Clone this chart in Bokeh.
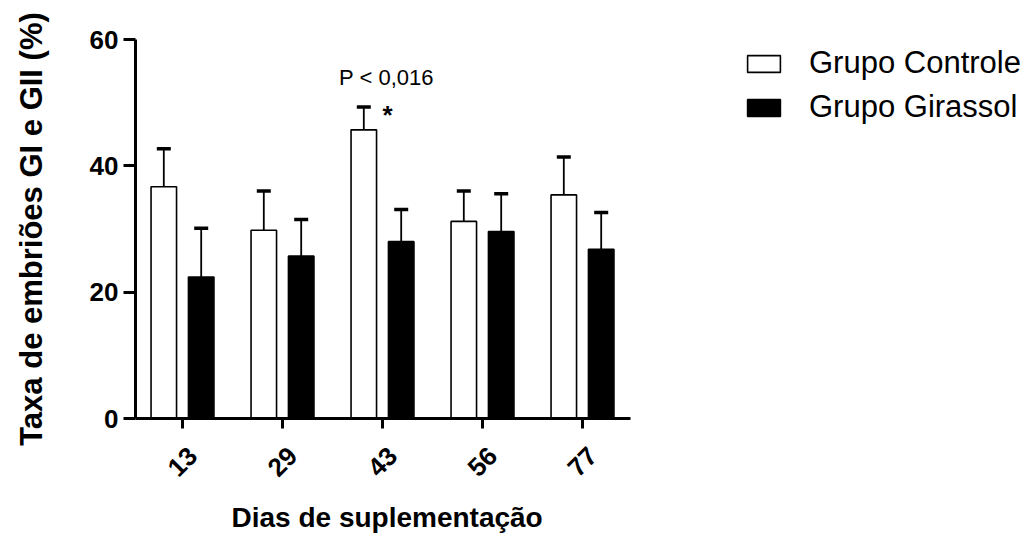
import math
from bokeh.plotting import figure
from bokeh.models import (Range1d, FixedTicker, Whisker, ColumnDataSource, Label,
                          Legend, LegendItem, TeeHead, LinearAxis, Title)
from bokeh.transform import dodge
from bokeh.embed import file_html
from bokeh.resources import INLINE

# ---- data ----
days = ["13", "29", "43", "56", "77"]
controle = [36.7, 29.8, 45.7, 31.2, 35.4]
controle_err = [6.0, 6.2, 3.6, 4.8, 6.0]
girassol = [22.4, 25.7, 28.0, 29.6, 26.8]
girassol_err = [7.7, 5.8, 5.1, 6.0, 5.8]
y_ticks = [0, 20, 40, 60]
series_names = ["Grupo Controle", "Grupo Girassol"]
x_title = "Dias de suplementação"
y_title = "Taxa de embriões GI e GII (%)"
annot_text = "P < 0,016"
star_text = "*"

FONT = "Liberation Sans"

xpos = list(range(len(days)))
src = ColumnDataSource(dict(
    x=xpos,
    c=controle,
    c_up=[v + e for v, e in zip(controle, controle_err)],
    g=girassol,
    g_up=[v + e for v, e in zip(girassol, girassol_err)],
))

W, H = 1027, 551
LEFT, TOP, BOTTOM_AXIS = 135, 39, 418
PX_PER_CAT = 100.0
X0 = -0.47                      # start of x axis (at the y axis)
X1 = 4.48                       # end of drawn x axis
XEND = X0 + (W - LEFT) / PX_PER_CAT   # frame spans the whole width (legend room)
LAB_SHIFT = 0.1

p = figure(width=W, height=H,
           x_range=Range1d(X0, XEND), y_range=Range1d(0, 60),
           output_backend="svg", toolbar_location=None,
           min_border_left=LEFT, min_border_right=0,
           min_border_top=TOP, min_border_bottom=H - BOTTOM_AXIS)
p.outline_line_color = None
p.xgrid.visible = False
p.ygrid.visible = False
p.background_fill_color = "white"
p.border_fill_color = "white"

off = 0.187
bw = 0.255
r1 = p.vbar(x=dodge("x", -off), top="c", bottom=0, width=bw, source=src,
            fill_color="white", line_color="black", line_width=1.6)
r2 = p.vbar(x=dodge("x", off), top="g", bottom=0, width=bw, source=src,
            fill_color="black", line_color="black", line_width=1.6)

for key, up, dx in (("c", "c_up", -off), ("g", "g_up", off)):
    w = Whisker(source=src, base=dodge("x", dx), lower=key, upper=up,
                dimension="height", line_color="black", line_width=1.8,
                upper_head=TeeHead(size=14, line_width=3.5, line_color="black"),
                lower_head=None, level="overlay")
    p.add_layout(w)

# main x axis: line + ticks only, limited to the data part
xa = p.xaxis[0]
xa.bounds = (X0, X1)
xa.ticker = FixedTicker(ticks=xpos)
xa.major_label_overrides = {i: "" for i in xpos}
xa.major_label_orientation = "vertical"
xa.minor_tick_line_color = None
xa.major_tick_in = 0
xa.major_tick_out = 10
xa.major_label_standoff = 0
xa.axis_line_width = 3
xa.major_tick_line_width = 3
xa.axis_line_color = "black"
xa.major_tick_line_color = "black"

# label axis (rotated labels centred on the ticks, like the reference)
p.extra_x_ranges = {"lab": Range1d(X0 - LAB_SHIFT, XEND - LAB_SHIFT)}
la = LinearAxis(x_range_name="lab", ticker=FixedTicker(ticks=xpos),
                major_label_overrides={i: d for i, d in enumerate(days)},
                major_label_orientation=math.pi / 4,
                axis_line_color=None, major_tick_line_color=None,
                minor_tick_line_color=None, major_tick_in=0, major_tick_out=0,
                major_label_standoff=23,
                major_label_text_font=FONT, major_label_text_font_style="bold",
                major_label_text_font_size="26px", major_label_text_color="black")
p.add_layout(la, "below")

p.add_layout(Title(text=x_title, align="left", offset=96, standoff=24,
                   text_font=FONT, text_font_style="bold", text_font_size="28px",
                   text_color="black"), "below")

ya = p.yaxis[0]
ya.ticker = FixedTicker(ticks=y_ticks)
ya.minor_tick_line_color = None
ya.major_tick_in = 0
ya.major_tick_out = 12
ya.major_label_standoff = 5
ya.axis_line_width = 3
ya.major_tick_line_width = 3
ya.axis_line_color = "black"
ya.major_tick_line_color = "black"
ya.major_label_text_font = FONT
ya.major_label_text_font_style = "bold"
ya.major_label_text_font_size = "26px"
ya.major_label_text_color = "black"
ya.axis_label = y_title
ya.axis_label_standoff = 38
ya.axis_label_text_font = FONT
ya.axis_label_text_font_style = "bold"
ya.axis_label_text_font_size = "31px"
ya.axis_label_text_color = "black"

# annotations
p.add_layout(Label(x=2.04, y=54.0, text=annot_text, text_align="center",
                   text_baseline="middle", text_font=FONT, text_font_size="22px",
                   text_color="black"))
p.add_layout(Label(x=2.05, y=48.1, text=star_text, text_align="center",
                   text_baseline="alphabetic", text_font=FONT, text_font_size="26px",
                   text_font_style="bold", text_color="black"))

legend = Legend(items=[LegendItem(label=series_names[0], renderers=[r1]),
                       LegendItem(label=series_names[1], renderers=[r2])],
                location=(608, 293), glyph_width=41, glyph_height=21,
                label_text_font=FONT, label_text_font_size="31px",
                label_text_color="black", label_standoff=25,
                padding=0, margin=0, spacing=8,
                border_line_color=None, background_fill_alpha=0)
p.add_layout(legend)

open("out.html", "w").write(file_html(p, INLINE))
